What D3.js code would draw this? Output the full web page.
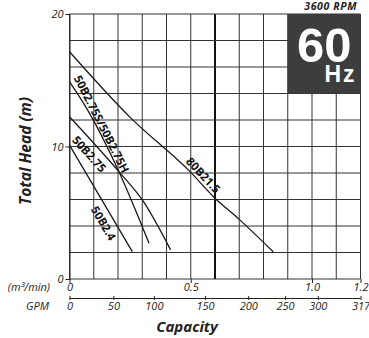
<!DOCTYPE html>
<html><head><meta charset="utf-8">
<script src="https://cdn.jsdelivr.net/npm/d3@7"></script>
<style>
html,body{margin:0;padding:0;background:#fff;}
svg{display:block;font-family:"Open Sans",sans-serif;}
</style></head><body>
<svg id="chart" width="369" height="338"></svg>
<script>
// Pump performance curves: capacity in m³/min, total head in m
const curveNames = ["80B21.5", "50B2.75S/50B2.75H", "50B2.75", "50B2.4"];
const flow80B215 = [0, 0.25, 0.5, 0.6, 0.7, 0.84];
const head80B215 = [17.15, 12.2, 8.05, 6.1, 4.5, 2.05];
const flow50B275SH = [0, 0.075, 0.204, 0.328];
const head50B275SH = [14.9, 12.75, 8.1, 2.7];
const flow50B275 = [0, 0.204, 0.301, 0.417];
const head50B275 = [12.25, 8.1, 5.95, 2.2];
const flow50B24 = [0, 0.101, 0.259];
const head50B24 = [10.1, 6.97, 2.06];

// Axis ticks
const flowTicks = [0, 0.5, 1.0, 1.2];
const headTicks = [0, 10, 20];
const gpmTicks = [0, 50, 100, 150, 200, 250, 300, 317];
const gpmTickFlow = [0, 0.181, 0.348, 0.559, 0.737, 0.889, 1.024, 1.2];

const series = [
  {name: curveNames[0], flow: flow80B215, head: head80B215},
  {name: curveNames[1], flow: flow50B275SH, head: head50B275SH},
  {name: curveNames[2], flow: flow50B275, head: head50B275},
  {name: curveNames[3], flow: flow50B24, head: head50B24}
];

const svg = d3.select("#chart");
const x = d3.scaleLinear().domain([0, 1.2]).range([69.5, 360.5]);
const y = d3.scaleLinear().domain([0, 20]).range([279, 14]);
const gpm = d3.scaleLinear().domain(gpmTicks).range(gpmTickFlow.map(x));

// grid
const grid = svg.append("g").attr("stroke", "#333").attr("stroke-width", 1);
grid.selectAll("line.v").data(d3.range(0, 13).map(i => i / 10)).join("line")
  .attr("x1", d => x(d)).attr("x2", d => x(d))
  .attr("y1", y(0)).attr("y2", y(20))
  .attr("stroke-width", d => Math.abs(d - 0.6) < 1e-9 ? 2 : 1)
  .attr("stroke", d => Math.abs(d - 0.6) < 1e-9 ? "#111" : "#333");
grid.selectAll("line.h").data(d3.range(0, 11).map(i => i * 2)).join("line")
  .attr("x1", x(0)).attr("x2", x(1.2))
  .attr("y1", d => y(d)).attr("y2", d => y(d));

// frequency badge
svg.append("rect")
  .attr("x", x(0.9)).attr("y", y(20))
  .attr("width", x(1.2) - x(0.9)).attr("height", y(14) - y(20))
  .attr("fill", "#3d3d3d");
svg.append("text").attr("x", x(1.2) - 9).attr("y", y(20) + 47.5)
  .attr("text-anchor", "end").attr("fill", "#fff")
  .attr("font-family", "Liberation Sans")
  .attr("font-size", 49).attr("font-weight", 700).text("60");
svg.append("text").attr("x", x(1.2) - 4).attr("y", y(14) - 12)
  .attr("text-anchor", "end").attr("fill", "#fff")
  .attr("font-family", "Liberation Sans")
  .attr("font-size", 23).attr("font-weight", 700).attr("letter-spacing", 2).text("Hz");
svg.append("text").attr("x", 357).attr("y", 9.5)
  .attr("text-anchor", "end").attr("fill", "#222")
  .attr("font-size", 10.5).attr("font-weight", 700).attr("font-style", "italic")
  .attr("letter-spacing", 0.6).text("3600 RPM");

// curves
const line = d3.line().x(d => x(d[0])).y(d => y(d[1])).curve(d3.curveMonotoneX);
svg.append("g").selectAll("path").data(series).join("path")
  .attr("d", s => line(s.flow.map((f, i) => [f, s.head[i]])))
  .attr("fill", "none").attr("stroke", "#1a1a1a").attr("stroke-width", 1.3);

// curve labels laid along each curve
const labelSpec = [
  {at: 0.53, off: -7.5},
  {at: 0.11, off: -6.5},
  {at: 0.113, off: 10},
  {at: 0.177, off: 10}
];
function pointAt(s, f) {
  let i = d3.bisectRight(s.flow, f) - 1;
  i = Math.max(0, Math.min(i, s.flow.length - 2));
  const t = (f - s.flow[i]) / (s.flow[i + 1] - s.flow[i]);
  const h = s.head[i] + t * (s.head[i + 1] - s.head[i]);
  const dx = x(s.flow[i + 1]) - x(s.flow[i]);
  const dy = y(s.head[i + 1]) - y(s.head[i]);
  return {px: x(f), py: y(h), ang: Math.atan2(dy, dx) * 180 / Math.PI};
}
series.forEach((s, k) => {
  const p = pointAt(s, labelSpec[k].at);
  svg.append("text")
    .attr("transform", `translate(${p.px},${p.py}) rotate(${p.ang})`)
    .attr("y", labelSpec[k].off).attr("dominant-baseline", "central")
    .attr("text-anchor", "middle").attr("font-size", 11.5).attr("font-weight", 700)
    .attr("fill", "#111").text(s.name);
});

// head axis
const yAxis = svg.append("g").attr("transform", `translate(${x(0)},0)`)
  .call(d3.axisLeft(y).tickValues(headTicks).tickSize(4).tickSizeOuter(0).tickPadding(2));
yAxis.select(".domain").attr("stroke", "#222");
yAxis.selectAll(".tick line").attr("stroke", "#222");
yAxis.selectAll("text").attr("font-size", 11).attr("font-style", "italic")
  .attr("font-family", "Open Sans").attr("fill", "#222");

svg.append("text")
  .attr("transform", `translate(31,${151}) rotate(-90)`)
  .attr("text-anchor", "middle").attr("font-size", 15.5)
  .attr("font-weight", 700).attr("font-style", "italic").attr("fill", "#222")
  .text("Total Head (m)");

// capacity axis in m³/min
const xAxis = svg.append("g").attr("transform", `translate(0,${y(0)})`)
  .call(d3.axisBottom(x).tickValues(flowTicks).tickSize(4).tickSizeOuter(0)
    .tickFormat(d => d === 0 ? "0" : d3.format(".1f")(d)));
xAxis.select(".domain").remove();
xAxis.selectAll(".tick line").attr("stroke", "#222");
xAxis.selectAll("text").attr("y", 12).attr("dy", 0).attr("font-size", 11)
  .attr("font-style", "italic").attr("font-family", "Open Sans").attr("fill", "#222");
svg.append("text").attr("x", 50).attr("y", 291).attr("text-anchor", "end")
  .attr("font-size", 11).attr("font-style", "italic").attr("fill", "#222")
  .text("(m³/min)");

// capacity axis in GPM
const gAxis = svg.append("g").attr("transform", `translate(0,296)`)
  .call(d3.axisBottom(gpm).tickValues(gpmTicks).tickSize(4).tickSizeOuter(0));
gAxis.select(".domain").remove();
gAxis.selectAll(".tick line").attr("stroke", "#222");
gAxis.selectAll("text").attr("y", 14).attr("dy", 0).attr("font-size", 11)
  .attr("font-style", "italic").attr("font-family", "Open Sans").attr("fill", "#222");
svg.append("line").attr("x1", gpm(0)).attr("x2", gpm(317))
  .attr("y1", 298.5).attr("y2", 298.5).attr("stroke", "#222");
svg.append("text").attr("x", 49).attr("y", 310).attr("text-anchor", "end")
  .attr("font-size", 11).attr("font-style", "italic").attr("fill", "#222")
  .text("GPM");

svg.append("text").attr("x", 187).attr("y", 332).attr("text-anchor", "middle")
  .attr("font-size", 15).attr("font-weight", 700).attr("font-style", "italic")
  .attr("fill", "#222").text("Capacity");
</script>
</body></html>
